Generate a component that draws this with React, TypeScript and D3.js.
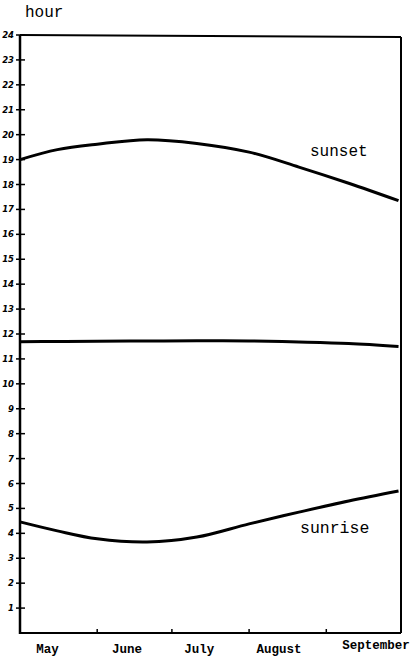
import React from "react";
import * as d3 from "d3";

const dates = ["05-01", "05-16", "06-01", "06-21", "07-11", "08-01", "08-21", "09-10", "09-30"];
const sunset = [19.0, 19.4, 19.62, 19.8, 19.65, 19.3, 18.7, 18.05, 17.35];
const noon = [11.69, 11.7, 11.71, 11.72, 11.73, 11.72, 11.68, 11.62, 11.5];
const sunrise = [4.46, 4.1, 3.78, 3.65, 3.85, 4.38, 4.85, 5.3, 5.7];
const hourTicks = d3.range(1, 25);
const monthTicks = ["06-01", "07-01", "08-01", "09-01"];
const monthLabels = ["May", "June", "July", "August", "September"];
const monthLabelDates = ["05-12", "06-13", "07-12", "08-13", "09-21"];

const W = 415, H = 660;
const parse = (s: string) => new Date(1980, +s.slice(0, 2) - 1, +s.slice(3, 5));

export default function App() {
  const x = d3.scaleTime().domain([parse("05-01"), parse("10-01")]).range([20, 401]);
  const y = d3.scaleLinear().domain([0, 24]).range([633, 35]);
  const line = d3
    .line<[Date, number]>()
    .x((d) => x(d[0]))
    .y((d) => y(d[1]))
    .curve(d3.curveCatmullRom);
  const mk = (vals: number[]) => line(dates.map((d, i) => [parse(d), vals[i]] as [Date, number])) || "";
  const mono = "'Liberation Mono', 'DejaVu Sans Mono', monospace";

  return (
    <svg width={W} height={H} style={{ position: "absolute", left: 0, top: 0, background: "#fff" }}>
      <text x={25} y={17} fontFamily={mono} fontSize={16} fill="#000">hour</text>
      {/* frame */}
      <line x1={20} y1={y(24)} x2={401} y2={y(24) + 2} stroke="#000" strokeWidth={2} />
      <line x1={401} y1={y(24) + 2} x2={401} y2={y(0)} stroke="#000" strokeWidth={2} />
      <line x1={20} y1={y(0)} x2={401} y2={y(0)} stroke="#000" strokeWidth={2} />
      <line x1={20} y1={y(24)} x2={20} y2={y(0) + 1} stroke="#000" strokeWidth={2.5} />
      {hourTicks.map((h) => (
        <g key={h}>
          <line x1={16} x2={25} y1={y(h)} y2={y(h)} stroke="#000" strokeWidth={1.5} />
          <text
            x={14}
            y={y(h) + 3}
            textAnchor="end"
            fontFamily="'DejaVu Sans', sans-serif"
            fontWeight="bold"
            fontStyle="italic"
            fontSize={8.5}
            fill="#000"
          >
            {h}
          </text>
        </g>
      ))}
      {monthTicks.map((m) => (
        <line key={m} x1={x(parse(m))} x2={x(parse(m))} y1={y(0) - 4} y2={y(0)} stroke="#000" strokeWidth={1.5} />
      ))}
      {monthLabels.map((m, i) => (
        <text
          key={m}
          x={x(parse(monthLabelDates[i]))}
          y={i === 4 ? 649 : 653}
          textAnchor="middle"
          fontFamily={mono}
          fontWeight="bold"
          fontSize={12.5}
          fill="#000"
        >
          {m}
        </text>
      ))}
      <path d={mk(sunset)} fill="none" stroke="#000" strokeWidth={3} />
      <path d={mk(noon)} fill="none" stroke="#000" strokeWidth={3} />
      <path d={mk(sunrise)} fill="none" stroke="#000" strokeWidth={3} />
      <text x={310} y={156} fontFamily={mono} fontSize={16} fill="#000">sunset</text>
      <text x={300} y={533} fontFamily={mono} fontSize={16.5} fill="#000">sunrise</text>
    </svg>
  );
}
